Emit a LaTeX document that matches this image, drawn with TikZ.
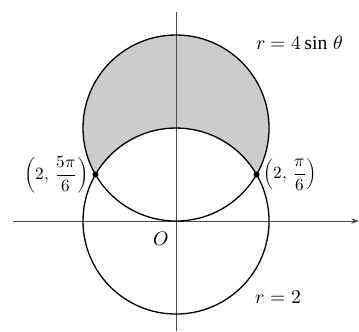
\documentclass[tikz,border=0pt]{standalone}
\usepackage{fontspec}
\setmainfont{Liberation Serif}
\usepackage{unicode-math}
\setmathfont{Latin Modern Math}
\usetikzlibrary{arrows.meta,positioning}

\begin{document}
\begin{tikzpicture}[font=\fontsize{12}{14}\selectfont,
 axis/.style={draw=black!70,line width=0.5pt},
 curve/.style={draw,line width=0.8pt},
 pt/.style={circle,fill,inner sep=0pt,minimum size=1.3mm},
 lbl/.style={inner sep=1pt},
 frac/.style={lbl,font=\fontsize{10.5}{12}\selectfont}]
\useasboundingbox (-3.785,-2.366) rectangle (3.935,4.753);
% shaded region
\fill[black!20] (30:2) arc[start angle=-30,end angle=210,radius=2] -- (150:2)
 arc[start angle=150,end angle=30,radius=2] -- cycle;
% axes
\draw[axis,-{Stealth[length=1.6mm]}] (-3.5,0) -- (3.93,0);
\draw[axis] (0,-2.37) -- (0,4.5);
% curves
\draw[curve] (0,0) circle[radius=2];
\draw[curve] (0,2) circle[radius=2];
\node[pt] (p1) at (30:2) {};
\node[pt] (p2) at (150:2) {};
\node[frac,right=0.3mm of p1] (l1) {$\left(2,\,\dfrac{\pi}{6}\right)$};
\node[frac,left=0.3mm of p2] (l2) {$\left(2,\,\dfrac{5\pi}{6}\right)$};
\node[lbl] (o) at (-0.32,-0.38) {$O$};
\node[lbl] (c1) at (2.66,3.83) {$r = 4\sin\,\theta$};
\node[lbl] (c2) at (2.20,-1.63) {$r = 2$};
\end{tikzpicture}
\end{document}
